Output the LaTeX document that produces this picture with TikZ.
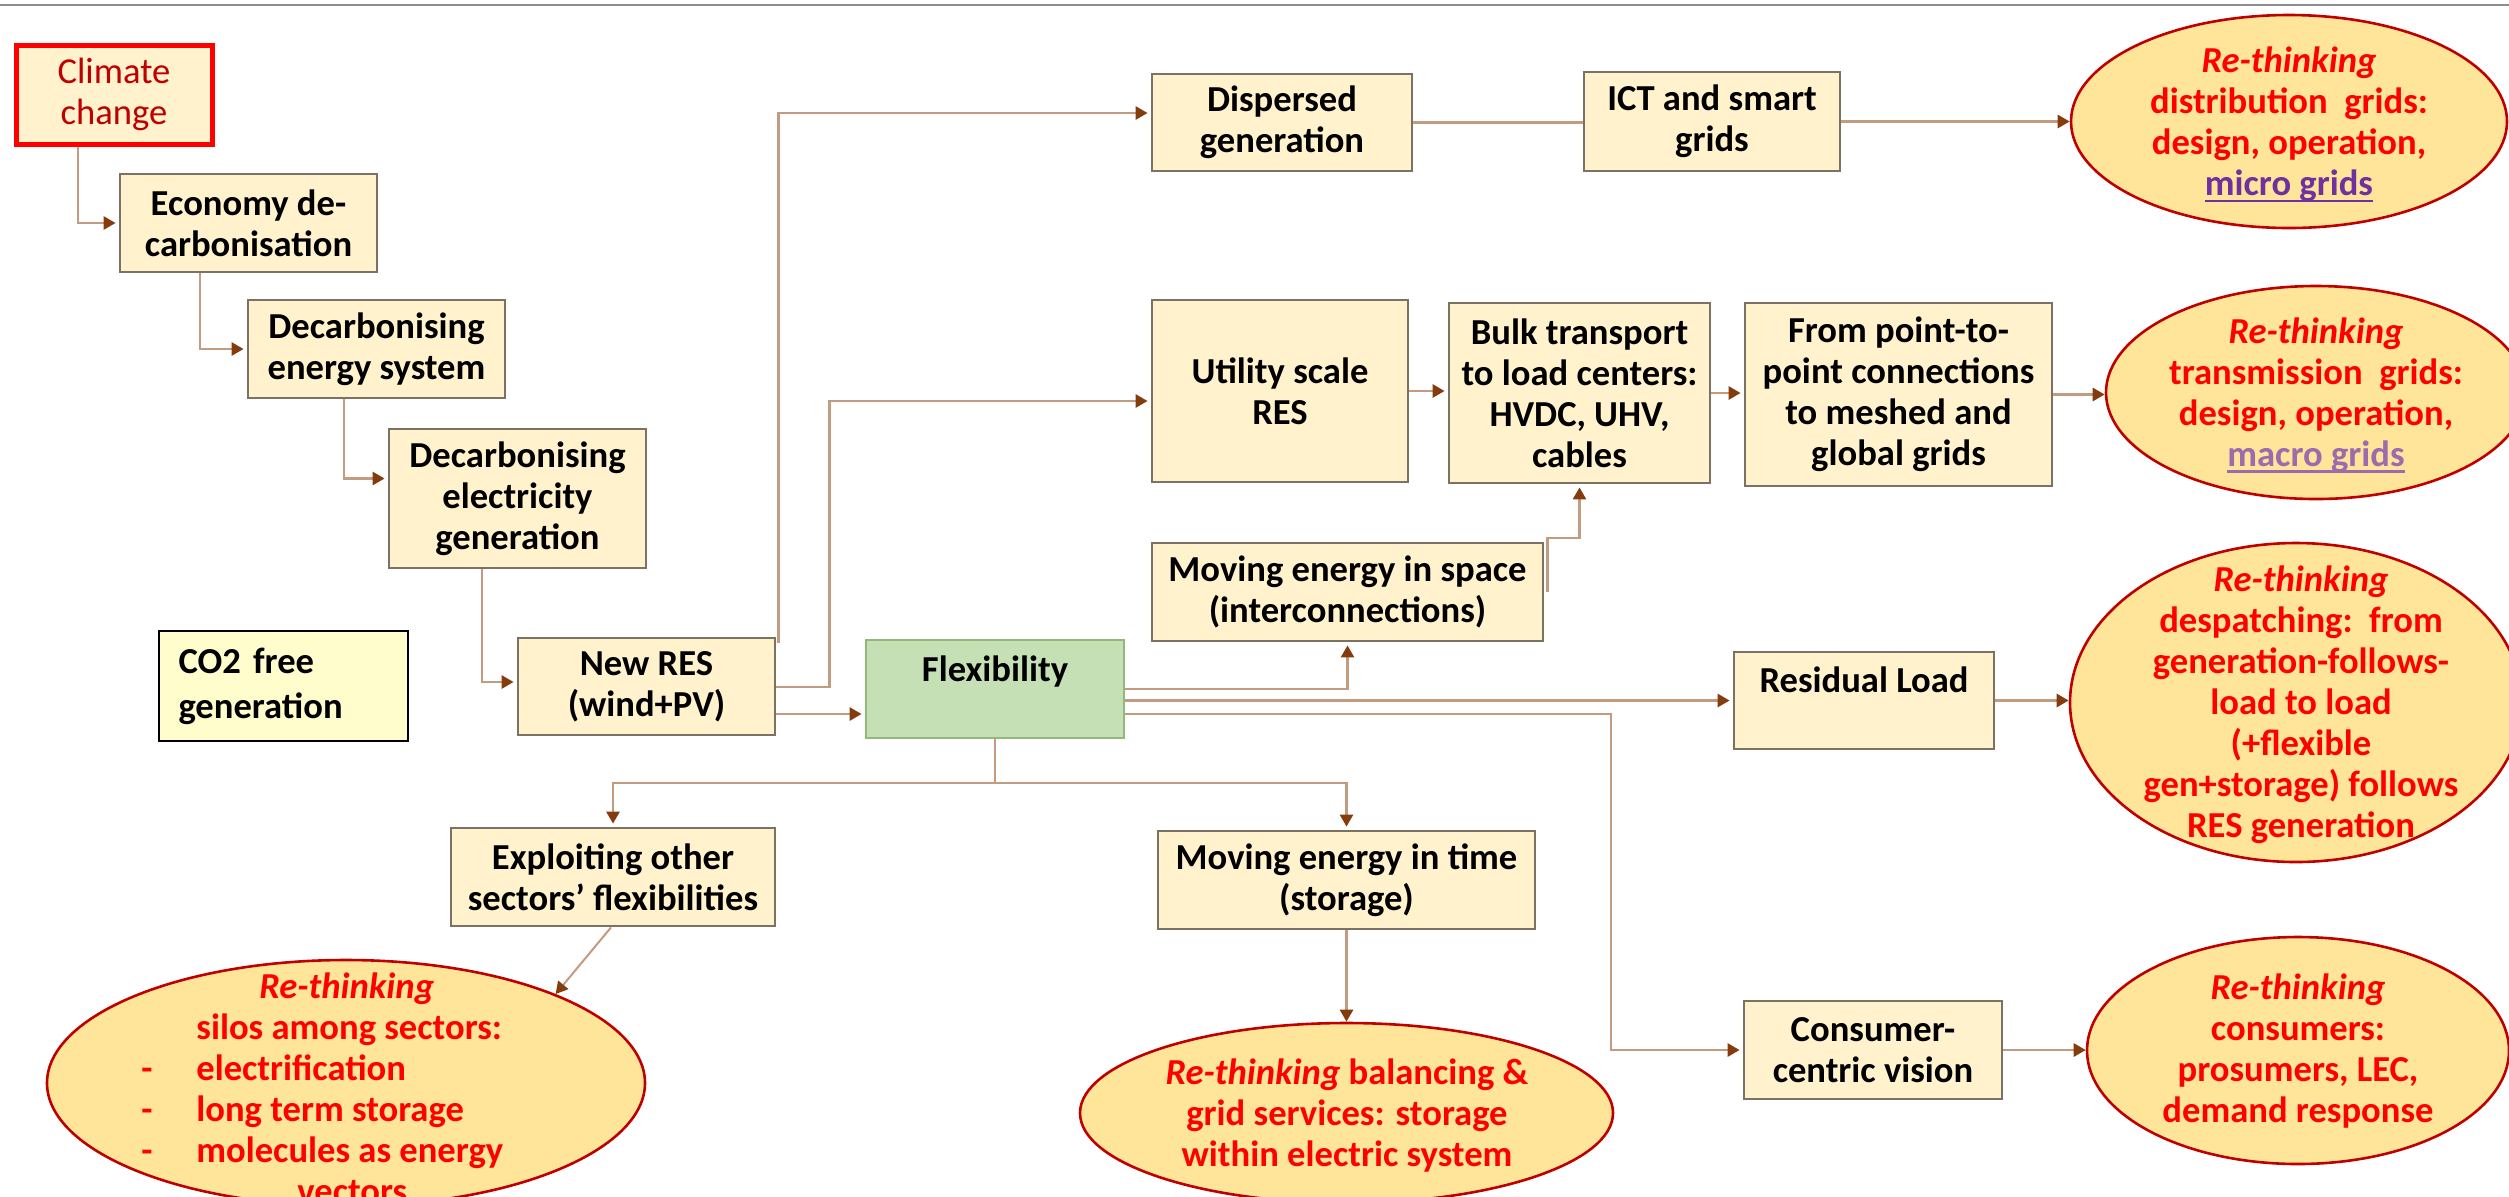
\documentclass[tikz,border=0pt]{standalone}
\usepackage{fontspec}
\setmainfont{Carlito}
\usetikzlibrary{arrows.meta,shapes.geometric,calc}
\definecolor{boxfill}{HTML}{FFF2CC}
\definecolor{boxline}{HTML}{7A7262}
\definecolor{connc}{HTML}{C39B80}
\definecolor{tipc}{HTML}{843C0C}
\definecolor{flexfill}{HTML}{C5E0B4}
\definecolor{flexline}{HTML}{93B97A}
\definecolor{ellfill}{HTML}{FFE599}
\definecolor{ellline}{HTML}{C00000}
\definecolor{redtxt}{HTML}{FF0000}
\definecolor{darkred}{HTML}{C00000}
\definecolor{purp}{HTML}{7030A0}
\definecolor{mauve}{HTML}{9B6BAE}
\definecolor{co2fill}{HTML}{FFFDCC}
\definecolor{topline}{HTML}{8F8F8F}
\newcommand{\fs}{\fontsize{18.3}{20.5}\selectfont}
\newcommand{\ulk}[1]{\setbox0\hbox{#1}\rlap{\rule[-3.2pt]{\wd0}{1.1pt}}\box0}
\begin{document}
\begin{tikzpicture}[x=0.5pt, y=-0.5pt, font=\fs\bfseries,
  box/.style={draw=boxline, fill=boxfill, line width=1.4pt, inner sep=0pt, align=center, text=black},
  ell/.style={ellipse, draw=ellline, fill=ellfill, line width=1.3pt, inner sep=0pt},
  etext/.style={align=center, text=redtxt, inner sep=0pt},
  link/.style={draw=connc, line width=1.35pt, -{Triangle[length=6pt,width=6.5pt,color=tipc]}, shorten >=1.5pt},
  plainlink/.style={draw=connc, line width=1.35pt}]
\useasboundingbox (0,0) rectangle (2509,1196);
\clip (0,0) rectangle (2509,1196);
\draw[topline, line width=1.2pt] (0,5) -- (2509,5);

% boxes
\node[box, draw=red, line width=2.5pt, text=darkred, font=\fs\mdseries, minimum width=98pt, minimum height=49.5pt] (clim) at (114,94.5) {Climate\\change};
\node[box, minimum width=128.5pt, minimum height=49pt] (econ) at (248.5,223) {Economy de-\\carbonisation};
\node[box, minimum width=128.5pt, minimum height=49pt] (ensys) at (376.5,349) {Decarbonising\\energy system};
\node[box, minimum width=128.5pt, minimum height=69.5pt] (elec) at (517.5,498.5) {Decarbonising\\electricity\\generation};
\node[box, minimum width=128.5pt, minimum height=48.5pt] (newres) at (646.5,686.5) {New RES\\(wind+PV)};
\node[draw=black, fill=co2fill, line width=1pt, minimum width=124.5pt, minimum height=55pt, text width=105pt, inner xsep=9.75pt, inner ysep=0pt, align=left, font=\fontsize{18.3}{22.5}\selectfont\bfseries] (co2) at (283.5,686) {CO2 free\\generation};
\node[box, draw=flexline, fill=flexfill, minimum width=129pt, minimum height=49pt] (flex) at (995,689) {Flexibility\\\mbox{}};
\node[box, minimum width=130pt, minimum height=48.5pt] (disp) at (1282,122.5) {Dispersed\\generation};
\node[box, minimum width=128pt, minimum height=49.5pt] (ict) at (1712,121.5) {ICT and smart\\grids};
\node[box, minimum width=128pt, minimum height=91pt] (util) at (1280,391) {Utility scale\\RES};
\node[box, minimum width=130.5pt, minimum height=90pt] (bulk) at (1579.5,393) {Bulk transport\\to load centers:\\HVDC, UHV,\\cables};
\node[box, minimum width=153.5pt, minimum height=91.5pt] (from) at (1898.5,394.5) {From point-to-\\point connections\\to meshed and\\global grids};
\node[box, minimum width=195.5pt, minimum height=49pt] (space) at (1347.5,592) {Moving energy in space\\(interconnections)};
\node[box, minimum width=130pt, minimum height=48.5pt] (resid) at (1864,700.5) {Residual Load\\\mbox{}};
\node[box, minimum width=162pt, minimum height=49pt] (expl) at (613,877) {Exploiting other\\sectors’ flexibilities};
\node[box, minimum width=188.5pt, minimum height=49pt] (time) at (1346.5,880) {Moving energy in time\\(storage)};
\node[box, minimum width=129pt, minimum height=49pt] (cons) at (1873,1050) {Consumer-\\centric vision};

% ellipses
\node[ell, minimum width=218pt, minimum height=106.5pt] (e1) at (2289,121.5) {};
\node[ell, minimum width=210pt, minimum height=106.5pt] (e2) at (2316,392.5) {};
\node[ell, minimum width=226pt, minimum height=159.5pt] (e3) at (2296,702.5) {};
\node[ell, minimum width=211pt, minimum height=113.5pt] (e4) at (2298,1050.5) {};
\node[ell, minimum width=299pt, minimum height=123pt] (e5) at (346,1083) {};
\node[ell, minimum width=266.5pt, minimum height=90pt] (e6) at (1346.5,1113) {};

\node[etext] (t1) at (2289,124.5) {\textit{Re-thinking}\\distribution\ \ grids:\\design, operation,\\{\color{purp}\ulk{micro grids}}};
\node[etext] (t2) at (2316,395) {\textit{Re-thinking}\\transmission\ \ grids:\\design, operation,\\{\color{mauve}\ulk{macro grids}}};
\node[etext] (t3) at (2301,704.5) {\textit{Re-thinking}\\despatching:\ \ from\\generation-follows-\\load to load\\(+flexible\\gen+storage) follows\\RES generation};
\node[etext] (t4) at (2298,1051.5) {\textit{Re-thinking}\\consumers:\\prosumers, LEC,\\demand response};
\node[etext] (t6) at (1347,1116) {\textit{Re-thinking} balancing \&\\grid services: storage\\within electric system};
\node[etext, anchor=base west] (t5) at (141,998) {\begin{tabular}[t]{@{}l@{}}
\hspace*{59pt}\textit{Re-thinking}\\
\hspace*{27.5pt}silos among sectors:\\
\makebox[27.5pt][l]{-}electrification\\
\makebox[27.5pt][l]{-}long term storage\\
\makebox[27.5pt][l]{-}molecules as energy\\
\hspace*{78pt}vectors
\end{tabular}};

% connectors
\draw[link] ([xshift=-18pt]clim.south) |- (econ.west);
\draw[link] ([xshift=-24.25pt]econ.south) |- (ensys.west);
\draw[link] ([xshift=-16.25pt]ensys.south) |- ([yshift=10pt]elec.west);
\draw[link] ([xshift=-17.75pt]elec.south) |- ([yshift=2.25pt]newres.west);
\draw[link] ([yshift=21.75pt]newres.east) ++(1pt,0) |- ([yshift=4.75pt]disp.west);
\draw[link] ([yshift=-0.25pt]newres.east) -- ++(53,0) |- ([yshift=-5pt]util.west);
\draw[link] ([yshift=-13.75pt]newres.east) -- ([yshift=-12.5pt]flex.west);
\draw[link] (flex.east) -| (space.south);
\draw[link] (flex.east |- resid.west) -- (resid.west);
\coordinate (cj) at (1611,900);
\draw[link] ([yshift=-12.5pt]flex.east) -| (cj) |- (cons.west);
\coordinate (fb) at (995,783);
\draw[link] (flex.south) -- (fb) -| (expl.north);
\draw[link] (flex.south) -- (fb) -| (time.north);
\draw[link] (util.east) -- (util.east -| bulk.west);
\draw[link] ([xshift=1.5pt]space.east) -- ++(0,-54) -| (bulk.south);
\draw[plainlink] (disp.east) -- (disp.east -| ict.west);
\draw[link, shorten >=0pt] (ict.east) -- (ict.east -| e1.west);
\draw[link] (bulk.east) -- (bulk.east -| from.west);
\draw[link, shorten >=0pt] (from.east) -- (from.east -| e2.west);
\draw[link, shorten >=0pt] (resid.east) -- (resid.east -| e3.west);
\draw[link, shorten >=0pt] (cons.east) -- (cons.east -| e4.west);
\draw[link, shorten >=0pt, line width=1pt] ([xshift=-1pt]expl.south) -- (e5.23);
\draw[link, shorten >=0pt] (time.south) -- (e6.north);
\end{tikzpicture}
\end{document}
